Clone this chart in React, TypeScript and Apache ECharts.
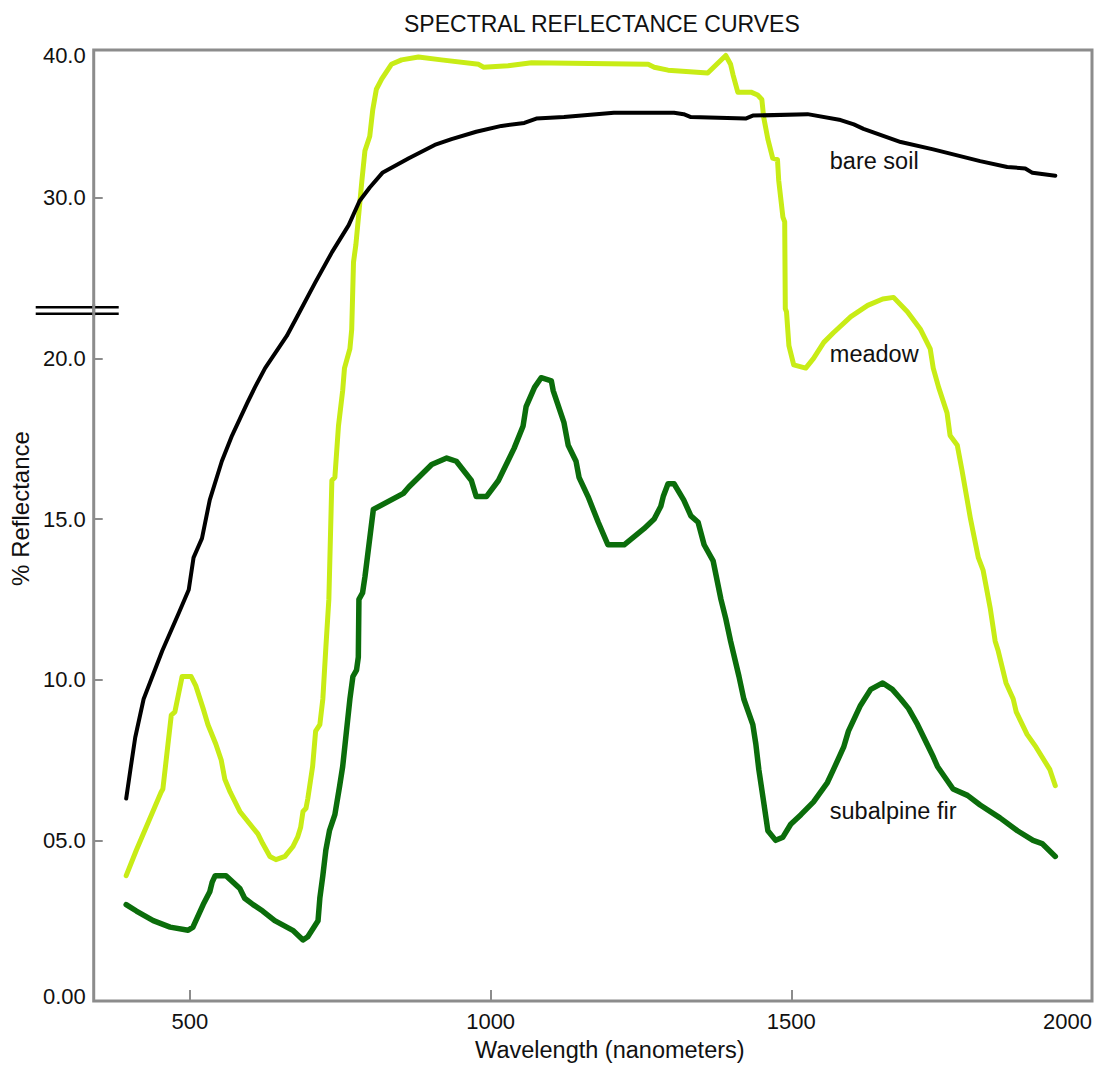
import React, { useEffect, useRef } from "react";
import * as echarts from "echarts";

// ---------- data (wavelength in nm, reflectance in %) ----------
const soilWavelength = [394, 401, 409, 423, 454, 482, 498, 506, 520, 533, 553, 570, 595, 608, 625, 661, 681, 708, 736, 764, 782, 799, 820, 864, 907, 935, 976, 1018, 1056, 1076, 1122, 1205, 1305, 1321, 1333, 1424, 1436, 1527, 1582, 1604, 1620, 1682, 1736, 1814, 1859, 1889, 1901, 1939];
const soilReflectance = [6.3, 7.2, 8.2, 9.4, 10.9, 12.1, 12.8, 13.8, 14.4, 15.6, 16.8, 17.6, 18.6, 19.1, 19.7, 21.4, 22.8, 24.7, 26.6, 28.3, 29.8, 30.7, 31.7, 32.7, 33.6, 34.0, 34.5, 34.9, 35.1, 35.4, 35.5, 35.8, 35.8, 35.7, 35.5, 35.4, 35.6, 35.7, 35.3, 35.0, 34.7, 33.8, 33.3, 32.5, 32.1, 32.0, 31.7, 31.5];

const meadowWavelength = [394, 411, 427, 452, 455, 469, 475, 487, 502, 510, 522, 530, 543, 552, 558, 567, 583, 600, 613, 621, 633, 643, 658, 671, 679, 684, 688, 693, 696, 704, 709, 716, 721, 726, 731, 736, 741, 747, 754, 757, 766, 769, 772, 776, 781, 786, 791, 799, 804, 810, 819, 835, 852, 880, 918, 980, 988, 1029, 1068, 1262, 1272, 1295, 1361, 1391, 1399, 1403, 1411, 1433, 1444, 1451, 1454, 1461, 1469, 1477, 1479, 1486, 1489, 1490, 1492, 1496, 1504, 1524, 1537, 1554, 1570, 1599, 1627, 1652, 1670, 1693, 1715, 1731, 1736, 1745, 1759, 1764, 1776, 1784, 1798, 1811, 1819, 1831, 1839, 1844, 1857, 1869, 1874, 1892, 1907, 1930, 1939];
const meadowReflectance = [3.9, 4.7, 5.4, 6.5, 6.6, 8.9, 9.0, 10.1, 10.1, 9.8, 9.1, 8.6, 8.0, 7.5, 6.9, 6.5, 5.9, 5.5, 5.2, 4.9, 4.5, 4.4, 4.5, 4.8, 5.1, 5.4, 5.9, 6.0, 6.3, 7.3, 8.4, 8.6, 9.4, 11.0, 12.5, 16.2, 16.3, 17.9, 19.0, 19.7, 20.6, 21.8, 26.0, 27.1, 29.1, 31.2, 33.2, 34.2, 36.0, 37.4, 38.1, 39.1, 39.4, 39.6, 39.4, 39.1, 38.9, 39.0, 39.2, 39.1, 38.9, 38.7, 38.5, 39.7, 39.1, 38.4, 37.2, 37.2, 37.0, 36.7, 35.5, 34.0, 32.7, 32.6, 31.2, 28.8, 28.5, 23.1, 22.9, 20.8, 19.8, 19.7, 20.0, 21.0, 21.6, 22.6, 23.3, 23.7, 23.8, 22.9, 21.8, 20.6, 19.7, 19.1, 18.3, 17.6, 17.3, 16.5, 15.0, 13.8, 13.4, 12.2, 11.2, 10.9, 9.9, 9.4, 9.0, 8.3, 7.9, 7.2, 6.7];

const firWavelength = [394, 411, 439, 467, 497, 505, 522, 533, 537, 542, 560, 583, 591, 605, 621, 641, 651, 671, 688, 696, 713, 716, 721, 726, 732, 741, 749, 754, 766, 771, 777, 780, 781, 787, 791, 795, 805, 855, 864, 902, 927, 943, 968, 976, 993, 1013, 1039, 1054, 1059, 1073, 1084, 1101, 1104, 1122, 1129, 1142, 1147, 1162, 1179, 1195, 1222, 1255, 1272, 1283, 1287, 1295, 1305, 1321, 1333, 1345, 1355, 1370, 1383, 1391, 1399, 1413, 1421, 1436, 1441, 1446, 1454, 1461, 1474, 1486, 1499, 1516, 1537, 1560, 1570, 1587, 1595, 1615, 1632, 1652, 1668, 1682, 1695, 1710, 1736, 1743, 1769, 1793, 1814, 1847, 1876, 1902, 1917, 1939];
const firReflectance = [3.0, 2.8, 2.5, 2.3, 2.2, 2.3, 3.0, 3.4, 3.7, 3.9, 3.9, 3.5, 3.2, 3.0, 2.8, 2.5, 2.4, 2.2, 1.9, 2.0, 2.5, 3.2, 3.9, 4.7, 5.3, 5.8, 6.7, 7.3, 9.4, 10.1, 10.3, 10.7, 12.5, 12.7, 13.2, 13.8, 15.3, 15.8, 16.0, 16.7, 16.9, 16.8, 16.2, 15.7, 15.7, 16.2, 17.2, 17.9, 18.5, 19.1, 19.4, 19.3, 19.0, 18.0, 17.3, 16.8, 16.3, 15.7, 14.9, 14.2, 14.2, 14.7, 15.0, 15.4, 15.7, 16.1, 16.1, 15.6, 15.1, 14.9, 14.2, 13.7, 12.5, 11.9, 11.2, 10.1, 9.4, 8.6, 8.0, 7.2, 6.2, 5.3, 5.0, 5.1, 5.5, 5.8, 6.2, 6.8, 7.2, 7.9, 8.4, 9.2, 9.7, 9.9, 9.7, 9.4, 9.1, 8.6, 7.6, 7.3, 6.6, 6.4, 6.1, 5.7, 5.3, 5.0, 4.9, 4.5];

// axis ticks / labels
const xTickValues = [500, 1000, 1500, 2000];
const yTickValues = [0, 5, 10, 15, 20, 30, 40];
const yTickLabels = ["0.00", "05.0", "10.0", "15.0", "20.0", "30.0", "40.0"];
const yBreakValue = 21.5; // axis break drawn between 20 and 30

// curve name labels: [name, wavelength, reflectance]
const curveNames = ["bare soil", "meadow", "subalpine fir"];
const curveNameWavelength = [1564, 1564, 1564];
const curveNameReflectance = [32.5, 20.3, 5.9];

// ---------- broken scale: 0-20 linear, 20-30 compressed, 30-40 compressed ----------
function toAxis(v: number): number {
  if (v <= 20) return v;
  if (v <= 30) return 20 + (v - 20) * 0.5;
  return 25 + (v - 30) * 0.4567;
}

const FONT = '"Liberation Sans", Arial, Helvetica, sans-serif';
const FRAME = "#8c8c8c";
const TEXT = "#111111";

function zip(xs: number[], ys: number[]) {
  const n = Math.min(xs.length, ys.length);
  const out: number[][] = [];
  for (let i = 0; i < n; i++) out.push([xs[i], toAxis(ys[i])]);
  return out;
}

export default function App() {
  const ref = useRef<HTMLDivElement>(null);

  useEffect(() => {
    if (!ref.current) return;
    const chart = echarts.init(ref.current, null, { renderer: "svg" });
    const yTickAxis = yTickValues.map(toAxis);
    const yMaxAxis = 29.6;

    const labelFor = (val: number) => {
      let best = 0;
      let bd = Infinity;
      yTickAxis.forEach((t, i) => {
        const d = Math.abs(t - val);
        if (d < bd) {
          bd = d;
          best = i;
        }
      });
      return best;
    };

    chart.setOption({
      animation: false,
      backgroundColor: "#ffffff",
      title: {
        text: "SPECTRAL REFLECTANCE CURVES",
        left: 399,
        top: 7,
        textStyle: { fontFamily: FONT, fontSize: 23, fontWeight: "normal", color: TEXT },
      },
      grid: {
        left: 91.5,
        right: 10,
        top: 50,
        bottom: 64,
        show: true,
        borderColor: FRAME,
        borderWidth: 3,
        backgroundColor: "transparent",
      },
      xAxis: {
        type: "value",
        min: 340,
        max: 2000,
        name: "Wavelength (nanometers)",
        nameLocation: "middle",
        nameGap: 37,
        nameTextStyle: { fontFamily: FONT, fontSize: 23.5, color: TEXT, padding: [0, 0, 0, 34] },
        axisLine: { show: false },
        axisTick: {
          show: true,
          inside: true,
          length: 11,
          customValues: xTickValues,
          lineStyle: { color: FRAME, width: 2 },
        },
        axisLabel: {
          customValues: xTickValues,
          fontFamily: FONT,
          fontSize: 22,
          color: TEXT,
          margin: 9,
          alignMaxLabel: "right",
          formatter: (v: number) => String(v),
        },
        splitLine: { show: false },
      },
      yAxis: {
        type: "value",
        min: 0,
        max: yMaxAxis,
        name: "% Reflectance",
        nameLocation: "middle",
        nameRotate: 90,
        nameGap: 61,
        nameTextStyle: { fontFamily: FONT, fontSize: 24, color: TEXT, padding: [0, 0, 0, 34] },
        axisLine: { show: false },
        axisTick: {
          show: true,
          inside: true,
          length: 9,
          customValues: yTickAxis.slice(1, yTickAxis.length - 1),
          lineStyle: { color: FRAME, width: 2 },
        },
        axisLabel: {
          customValues: yTickAxis,
          margin: 8,
          fontFamily: FONT,
          fontSize: 22,
          color: TEXT,
          formatter: (val: number) => {
            const i = labelFor(val);
            const txt = yTickLabels[i];
            if (i === 0) return "{bot|" + txt + "}";
            if (i === yTickLabels.length - 1) return "{top|" + txt + "}";
            return "{n|" + txt + "}";
          },
          rich: {
            n: { fontFamily: FONT, fontSize: 22, color: TEXT },
            bot: { fontFamily: FONT, fontSize: 22, color: TEXT, padding: [0, 0, 10, 0] },
            top: { fontFamily: FONT, fontSize: 22, color: TEXT, padding: [9, 0, 0, 0] },
          },
        },
        splitLine: { show: false },
      },
      series: [
        {
          name: "bare soil",
          type: "line",
          data: zip(soilWavelength, soilReflectance),
          showSymbol: false,
          symbol: "none",
          lineStyle: { color: "#000000", width: 4, cap: "round", join: "round" },
          z: 3,
        },
        {
          name: "meadow",
          type: "line",
          data: zip(meadowWavelength, meadowReflectance),
          showSymbol: false,
          symbol: "none",
          lineStyle: { color: "#c8ec16", width: 5, cap: "round", join: "round" },
          z: 2,
        },
        {
          name: "subalpine fir",
          type: "line",
          data: zip(firWavelength, firReflectance),
          showSymbol: false,
          symbol: "none",
          lineStyle: { color: "#0b6d0b", width: 5.5, cap: "round", join: "round" },
          z: 2,
        },
      ],
    });

    // annotations positioned through the chart's own coordinate system
    const px = (w: number, v: number) =>
      chart.convertToPixel({ gridIndex: 0 }, [w, v]) as number[];
    const leftPx = px(340, 0)[0];
    const breakY = px(340, yBreakValue)[1];

    const graphics: any[] = [
      {
        type: "line",
        shape: { x1: leftPx - 58, y1: breakY - 3, x2: leftPx + 25, y2: breakY - 3 },
        style: { stroke: "#000", lineWidth: 2.5 },
        z: 10,
      },
      {
        type: "line",
        shape: { x1: leftPx - 58, y1: breakY + 3.5, x2: leftPx + 25, y2: breakY + 3.5 },
        style: { stroke: "#000", lineWidth: 2.5 },
        z: 10,
      },
      {
        type: "rect",
        shape: { x: leftPx - 1.5, y: breakY - 6, width: 3, height: 12 },
        style: { fill: FRAME },
        z: 11,
      },
    ];
    curveNames.forEach((name, i) => {
      const p = px(curveNameWavelength[i], toAxis(curveNameReflectance[i]));
      graphics.push({
        type: "text",
        x: p[0],
        y: p[1],
        style: {
          text: name,
          fontFamily: FONT,
          fontSize: 23.5,
          fill: TEXT,
          align: "left",
          verticalAlign: "middle",
        },
        z: 12,
      });
    });
    chart.setOption({ graphic: graphics });

    return () => chart.dispose();
  }, []);

  return (
    <div
      ref={ref}
      style={{ position: "absolute", left: 0, top: 0, width: 1102, height: 1067 }}
    />
  );
}
